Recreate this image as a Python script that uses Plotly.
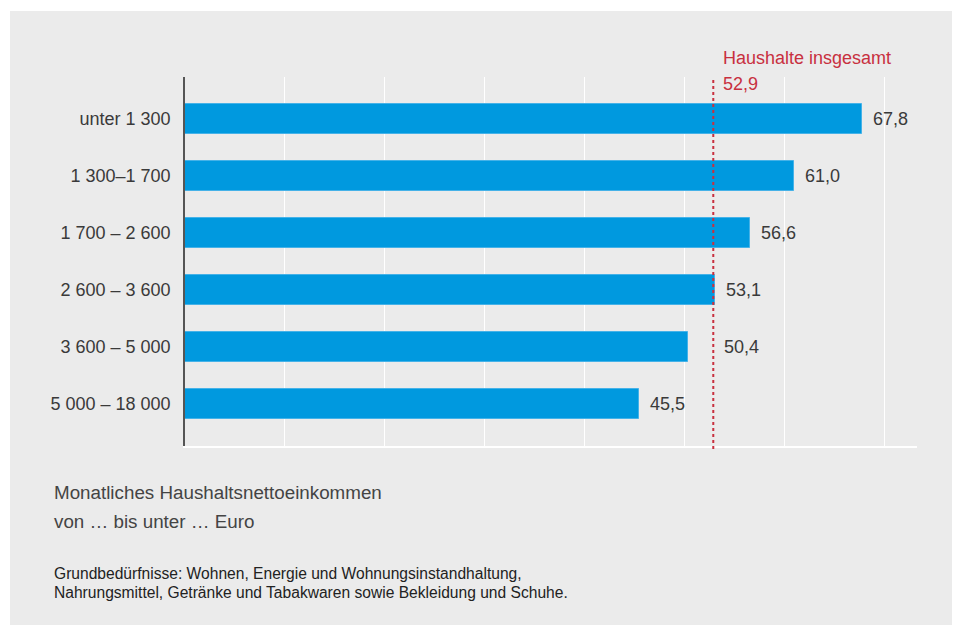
import plotly.graph_objects as go

categories = ["unter 1 300", "1 300–1 700", "1 700 – 2 600", "2 600 – 3 600", "3 600 – 5 000", "5 000 – 18 000"]
values = [67.8, 61.0, 56.6, 53.1, 50.4, 45.5]
value_labels = ["67,8", "61,0", "56,6", "53,1", "50,4", "45,5"]
total_value = 52.9
total_label = "52,9"
total_title = "Haushalte insgesamt"
axis_note = ["Monatliches Haushaltsnettoeinkommen", "von … bis unter … Euro"]
footnote = ["Grundbedürfnisse: Wohnen, Energie und Wohnungsinstandhaltung,",
            "Nahrungsmittel, Getränke und Tabakwaren sowie Bekleidung und Schuhe."]

FONT = "Liberation Sans, Arial, sans-serif"
BLUE = "#0099df"
RED = "#c8303f"
TXT = "#3a3a3a"

W, H = 957, 625
L, R, T, B = 185, 40, 77, 179
pw, ph = W - L - R, H - T - B

def px_x(x):
    return (x - L) / pw

def px_y(y):
    return (H - B - y) / ph

fig = go.Figure()
fig.add_trace(go.Bar(
    x=values, y=categories, orientation="h",
    marker=dict(color=BLUE, line=dict(color="#45b2e8", width=1)),
    width=0.53, hoverinfo="skip",
))

annotations = []
for c, v, lab in zip(categories, values, value_labels):
    # labels that would collide with the reference line are moved past it
    anchor_x = total_value if (v < total_value and total_value - v < 4) else v
    annotations.append(dict(x=anchor_x, y=c, xref="x", yref="y", text=lab, showarrow=False,
                            xanchor="left", yanchor="middle", xshift=9,
                            font=dict(family=FONT, size=18, color=TXT)))

annotations.append(dict(x=total_value, y=px_y(58), xref="x", yref="paper", text=total_title,
                        showarrow=False, xanchor="left", yanchor="middle", xshift=8,
                        font=dict(family=FONT, size=18, color=RED)))
annotations.append(dict(x=total_value, y=px_y(84), xref="x", yref="paper", text=total_label,
                        showarrow=False, xanchor="left", yanchor="middle", xshift=8,
                        font=dict(family=FONT, size=18, color=RED)))

for i, line in enumerate(axis_note):
    annotations.append(dict(x=px_x(52), y=px_y(493 + 28 * i), xref="paper", yref="paper",
                            text=line, showarrow=False, xanchor="left", yanchor="middle",
                            font=dict(family=FONT, size=18.8, color="#444444")))
for i, line in enumerate(footnote):
    annotations.append(dict(x=px_x(52), y=px_y(573 + 19 * i), xref="paper", yref="paper",
                            text=line, showarrow=False, xanchor="left", yanchor="middle",
                            font=dict(family=FONT, size=15.6, color="#222222")))

shapes = [
    dict(type="rect", xref="paper", yref="paper", x0=px_x(10), x1=px_x(952),
         y0=px_y(625), y1=px_y(11), fillcolor="#ebebeb", line=dict(width=0), layer="below"),
    dict(type="line", xref="x", yref="paper", x0=total_value, x1=total_value,
         y0=px_y(449), y1=px_y(77), line=dict(color=RED, width=2, dash="dot")),
]

fig.update_layout(
    width=W, height=H,
    margin=dict(l=L, r=R, t=T, b=B),
    paper_bgcolor="white",
    plot_bgcolor="rgba(0,0,0,0)",
    showlegend=False,
    bargap=0,
    shapes=shapes,
    annotations=annotations,
    font=dict(family=FONT),
    xaxis=dict(range=[0, 73.3], dtick=10, showticklabels=False, showgrid=True,
               gridcolor="white", gridwidth=1, zeroline=False,
               showline=True, linecolor="white", linewidth=2, ticks=""),
    yaxis=dict(autorange=False, range=[5.74, -0.74], showgrid=False, zeroline=False,
               showline=True, linecolor="#555555", linewidth=1.5, ticks="",
               ticklabelstandoff=9,
               tickfont=dict(family=FONT, size=18, color=TXT)),
)

fig.write_html("out.html", config={"displayModeBar": False},
               post_script="document.body.style.margin='0';document.body.style.overflow='hidden';")
